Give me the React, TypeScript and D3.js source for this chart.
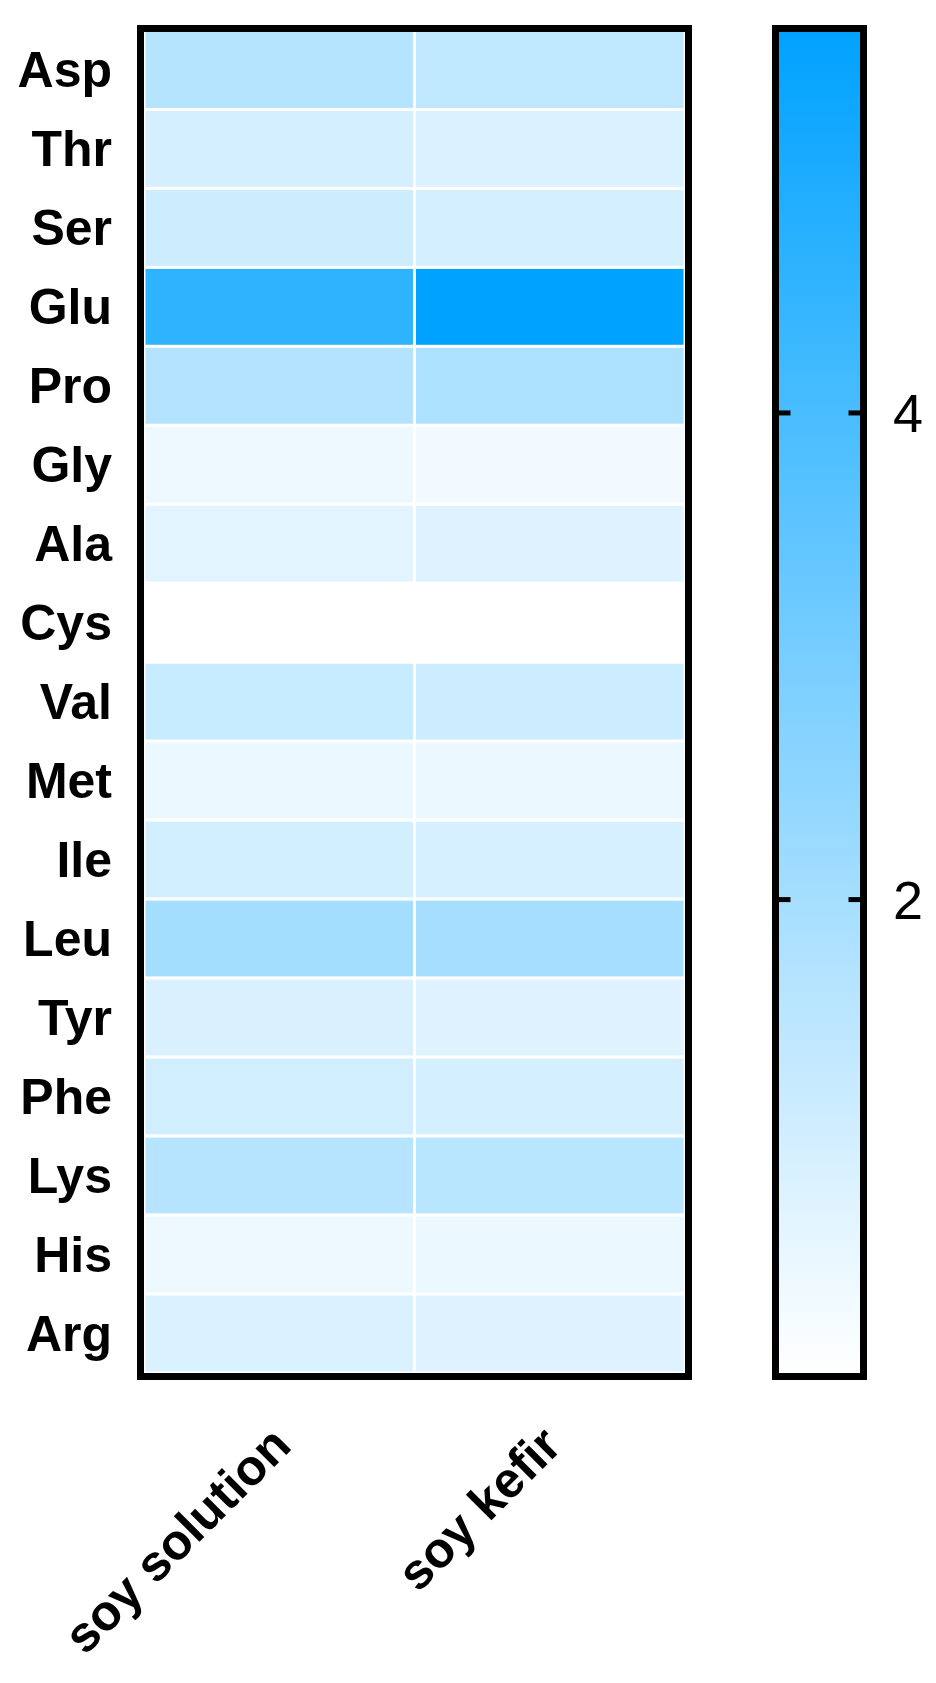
import React from "react";
import * as d3 from "d3";

const aminoAcids = ["Asp","Thr","Ser","Glu","Pro","Gly","Ala","Cys","Val","Met","Ile","Leu","Tyr","Phe","Lys","His","Arg"];
const samples = ["soy solution","soy kefir"];
const soySolution = [1.65,0.98,1.12,4.58,1.70,0.41,0.70,0.04,1.26,0.48,1.01,2.01,0.87,1.04,1.62,0.41,0.84];
const soyKefir = [1.43,0.84,0.98,5.58,1.84,0.32,0.76,0.04,1.15,0.48,0.93,1.98,0.76,0.98,1.59,0.48,0.76];
const colorTicks = [2, 4];
const colorDomain = [0.04, 5.58];
const colorRange = ["#ffffff", "#00a2ff"];

const W = 936, H = 1683;
const frame = { x0: 140.5, x1: 688.5, y0: 28.5, y1: 1376.5 };
const bar = { x0: 775.5, x1: 863.5 };
const font = "Arial, 'Liberation Sans', Helvetica, sans-serif";

export default function App() {
  const series = [soySolution, soyKefir];
  const x = d3.scaleBand<string>().domain(samples).range([frame.x0 + 3.5, frame.x1 - 3.5]);
  const y = d3.scaleBand<string>().domain(aminoAcids).range([frame.y0 + 2, frame.y1 - 3.5]);
  const color = d3.scaleLinear<string>().domain(colorDomain).range(colorRange).interpolate(d3.interpolateRgb);
  const cy = d3.scaleLinear().domain(colorDomain).range([frame.y1, frame.y0]);

  const cells: any[] = [];
  samples.forEach((s, j) => {
    aminoAcids.forEach((a, i) => {
      cells.push({ s, a, v: series[j][i] });
    });
  });

  const stops = d3.range(0, 1.0001, 0.1).map((t) => {
    const v = colorDomain[0] + t * (colorDomain[1] - colorDomain[0]);
    return { off: t, c: color(v) };
  });

  return (
    <svg width={W} height={H} style={{ position: "absolute", left: 0, top: 0, display: "block", background: "#fff" }}>
      <defs>
        <linearGradient id="cbar" x1="0" y1="1" x2="0" y2="0">
          {stops.map((s, i) => (
            <stop key={i} offset={s.off} stopColor={s.c} />
          ))}
        </linearGradient>
      </defs>
      {cells.map((c, i) => (
        <rect
          key={i}
          x={x(c.s)}
          y={y(c.a)}
          width={x.bandwidth()}
          height={y.bandwidth()}
          fill={color(c.v)}
          stroke="#ffffff"
          strokeWidth={3}
        />
      ))}
      <rect x={frame.x0} y={frame.y0} width={frame.x1 - frame.x0} height={frame.y1 - frame.y0} fill="none" stroke="#000" strokeWidth={7} />
      {aminoAcids.map((a) => (
        <text key={a} x={112} y={(y(a) as number) + y.bandwidth() / 2} dy="0.35em" textAnchor="end" fontFamily={font} fontWeight="bold" fontSize={50} fill="#000">
          {a}
        </text>
      ))}
      {samples.map((s) => {
        const ax = (x(s) as number) + x.bandwidth() / 2 + 14;
        const ay = 1448;
        return (
          <text key={s} x={ax} y={ay} transform={`rotate(-45 ${ax} ${ay})`} textAnchor="end" fontFamily={font} fontWeight="bold" fontSize={50} fill="#000">
            {s}
          </text>
        );
      })}
      <rect x={bar.x0} y={frame.y0} width={bar.x1 - bar.x0} height={frame.y1 - frame.y0} fill="url(#cbar)" stroke="#000" strokeWidth={7} />
      {colorTicks.map((t) => (
        <g key={t}>
          <line x1={bar.x0 - 3.5} x2={bar.x0 + 15} y1={cy(t)} y2={cy(t)} stroke="#000" strokeWidth={5} />
          <line x1={bar.x1 - 15} x2={bar.x1 + 3.5} y1={cy(t)} y2={cy(t)} stroke="#000" strokeWidth={5} />
          <text x={893} y={cy(t)} dy="0.36em" fontFamily={font} fontSize={54} fill="#000">
            {t}
          </text>
        </g>
      ))}
    </svg>
  );
}
